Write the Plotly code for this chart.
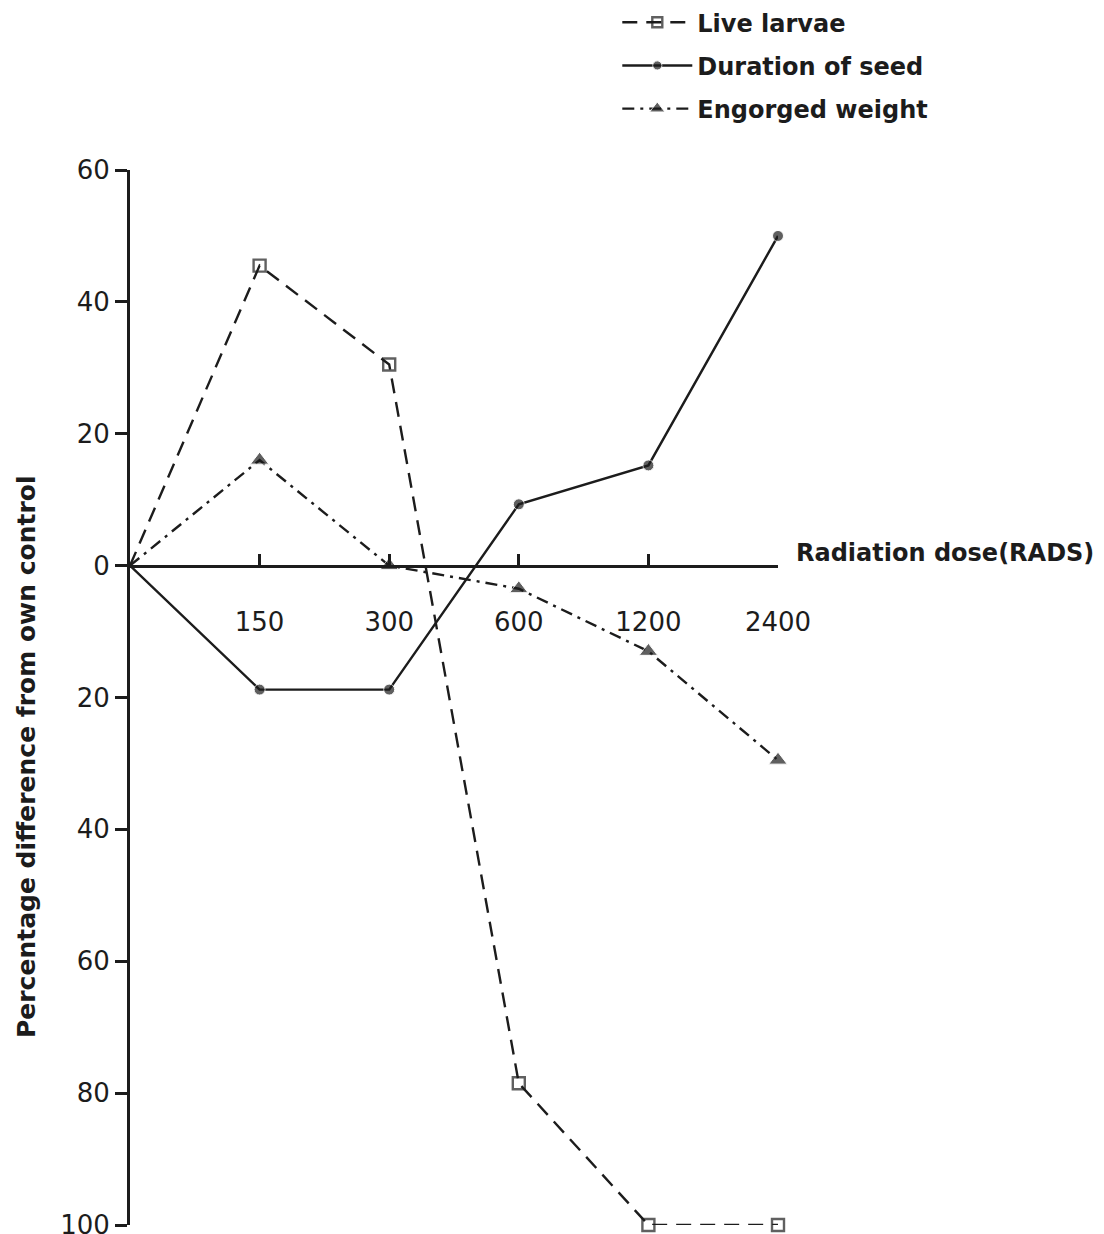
import plotly.graph_objects as go

doses = ["0", "150", "300", "600", "1200", "2400"]
live_larvae = [0, 45.5, 30.5, -78.5, -100, -100]
duration_seed = [0, -18.8, -18.8, 9.3, 15.2, 50]
engorged_weight = [0, 16, 0, -3.5, -13, -29.5]

y_tickvals = [60, 40, 20, 0, -20, -40, -60, -80, -100]
y_ticktext = ["60", "40", "20", "0", "20", "40", "60", "80", "100"]

ink = "#1c1c1c"

fig = go.Figure()
fig.add_trace(go.Scatter(
    x=doses, y=live_larvae, name="Live larvae", mode="lines+markers",
    line=dict(color=ink, width=2.4, dash="15px,9px"),
    marker=dict(symbol="square-open", size=[0, 12, 12, 12, 12, 12], color=ink, line=dict(width=2.4, color=ink)),
    cliponaxis=False, legendgroup="a"))
fig.add_trace(go.Scatter(
    x=doses, y=duration_seed, name="Duration of seed", mode="lines+markers",
    line=dict(color=ink, width=2.4),
    marker=dict(symbol="circle", size=[0, 11, 11, 11, 11, 11], color=ink),
    cliponaxis=False, legendgroup="b"))
fig.add_trace(go.Scatter(
    x=doses, y=engorged_weight, name="Engorged weight", mode="lines+markers",
    line=dict(color=ink, width=2.4, dash="12px,6px,3px,6px"),
    marker=dict(symbol="triangle-up", size=[0, 16, 16, 16, 16, 16], color=ink),
    cliponaxis=False, legendgroup="c"))

fig.update_layout(
    width=1104, height=1234,
    margin=dict(l=130, r=326, t=170, b=9, autoexpand=False),
    paper_bgcolor="white", plot_bgcolor="white",
    font=dict(family="DejaVu Sans", color=ink),
    showlegend=True,
    legend=dict(
        x=0.752, y=1.161, xanchor="left", yanchor="top",
        font=dict(family="DejaVu Sans", size=24, color=ink, weight="bold"),
        tracegroupgap=9, traceorder="grouped", bgcolor="rgba(0,0,0,0)",
        itemwidth=70,
    ),
    xaxis=dict(
        type="category", range=[0, 5], anchor="free", position=0.625,
        automargin=False,
        showline=True, linecolor=ink, linewidth=3,
        tickmode="array", tickvals=doses[1:], ticktext=doses[1:],
        ticks="inside", ticklen=11, tickwidth=2.5, tickcolor=ink,
        ticklabelstandoff=32,
        tickfont=dict(family="DejaVu Sans", size=26, color=ink),
        showgrid=False, zeroline=False,
    ),
    yaxis=dict(
        range=[-100, 60], automargin=False,
        showline=True, linecolor=ink, linewidth=3,
        tickmode="array", tickvals=y_tickvals, ticktext=y_ticktext,
        ticks="outside", ticklen=12, tickwidth=2.5, tickcolor=ink,
        ticklabeloverflow="allow",
        tickfont=dict(family="DejaVu Sans", size=26, color=ink),
        showgrid=False, zeroline=False,
    ),
    annotations=[
        dict(text="Percentage difference from own control", textangle=-90,
             xref="paper", yref="paper", x=0, y=0.4436, xanchor="center", yanchor="middle",
             xshift=-104, showarrow=False,
             font=dict(family="DejaVu Sans", size=25, color=ink, weight="bold")),
        dict(text="Radiation dose(RADS)", xref="paper", yref="paper",
             x=1, y=0.625, xanchor="left", yanchor="middle", xshift=16, yshift=13,
             showarrow=False,
             font=dict(family="DejaVu Sans", size=24, color=ink, weight="bold")),
    ],
)

fig.write_html("out.html")
